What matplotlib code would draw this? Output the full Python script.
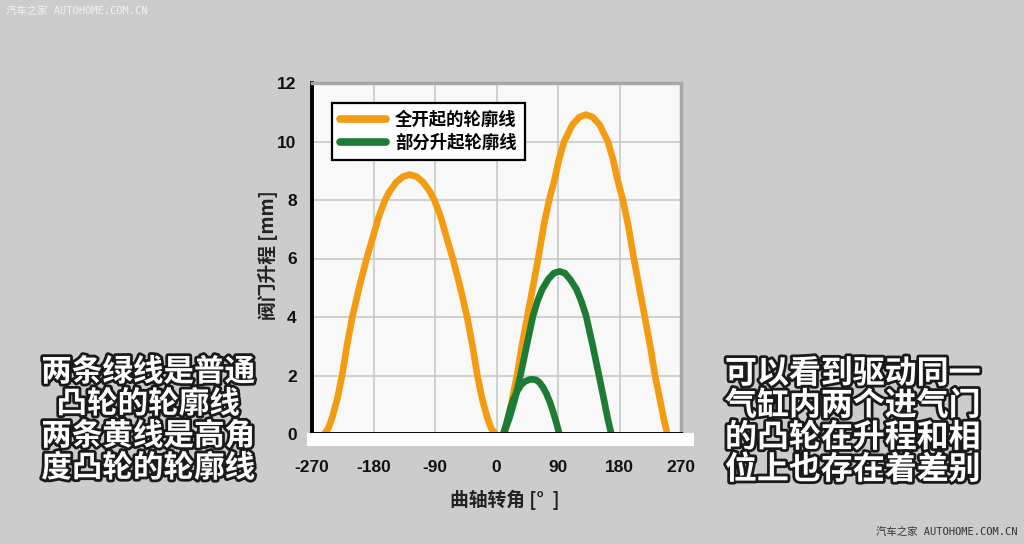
import numpy as np
import matplotlib
matplotlib.use('Agg')
import matplotlib.pyplot as plt
import matplotlib.patheffects as pe
from matplotlib.patches import Rectangle

plt.rcParams['font.family'] = ['Liberation Sans', 'Noto Sans CJK SC', 'DejaVu Sans']
plt.rcParams['axes.unicode_minus'] = False

# Data (crank angle in deg, valve lift in mm)
full_1_angle = [-252, -246, -240, -233, -226, -219, -211, -200, -190, -180, -172, -163, -157,
                -147, -137, -127, -117, -107, -97, -91, -82, -74, -64, -54, -43, -35, -28,
                -21, -14, -8, -2]
full_1_lift = [0, 0.2, 0.6, 1.2, 2.0, 3.0, 4.0, 5.1, 6.0, 6.8, 7.45, 8.0, 8.27,
               8.6, 8.8, 8.87, 8.8, 8.6, 8.27, 8.0, 7.45, 6.8, 6.0, 5.1, 4.0, 3.0, 2.0,
               1.2, 0.6, 0.2, 0]

full_2_angle = [12, 17, 23, 30, 37, 45, 53, 61, 69, 77, 85, 91, 99, 111, 121, 131,
                141, 151, 163, 171, 177, 185, 193, 201, 209, 217, 225, 232, 239, 245, 250]
full_2_lift = [0, 0.5, 1.2, 2.0, 3.0, 4.0, 5.0, 6.0, 7.1, 8.0, 8.7, 9.35, 10.0, 10.57, 10.83, 10.92,
               10.83, 10.57, 10.0, 9.35, 8.7, 8.0, 7.1, 6.0, 5.0, 4.0, 3.0, 2.0, 1.2, 0.5, 0]

part_1_angle = [10, 19, 27, 35, 44, 53, 60, 67, 76, 84, 92, 100, 108, 117, 124, 131,
                141, 150, 157, 163, 168]
part_1_lift = [0, 0.55, 1.2, 2.0, 3.0, 4.0, 4.55, 4.95, 5.3, 5.5, 5.56, 5.5, 5.28, 4.95, 4.55, 4.05,
               3.0, 2.0, 1.2, 0.5, 0]

part_2_angle = [10, 15, 20, 25, 30, 36, 42, 48, 53, 58, 63, 68, 73, 78, 83, 88, 92]
part_2_lift = [0, 0.4, 0.85, 1.2, 1.45, 1.68, 1.8, 1.86, 1.87, 1.85, 1.76, 1.6, 1.38, 1.1, 0.75, 0.35, 0]

x_ticks = [-270, -180, -90, 0, 90, 180, 270]
y_ticks = [0, 2, 4, 6, 8, 10, 12]

orange = '#F39C12'
green = '#1E7B34'
bg = '#CCCCCC'

W, H = 1024, 544
fig = plt.figure(figsize=(W / 100, H / 100), dpi=100, facecolor=bg)
ax = fig.add_axes([312 / W, 1 - 434 / H, 369 / W, 351 / H])
ax.set_facecolor('#F8F8F8')

style = dict(lw=4.8, solid_capstyle='round', solid_joinstyle='round')
ax.plot(full_1_angle, full_1_lift, color=orange, label='全开起的轮廓线', zorder=3, **style)
ax.plot(full_2_angle, full_2_lift, color=orange, zorder=3, **style)
ax.plot(part_1_angle, part_1_lift, color=green, label='部分升起轮廓线', zorder=4, **style)
ax.plot(part_2_angle, part_2_lift, color=green, zorder=4, **style)

ax.set_xlim(-270, 270)
ax.set_ylim(0, 12)
ax.set_xticks(x_ticks)
ax.set_yticks(y_ticks)
ax.grid(True, color='#C8C8C8', lw=1.2, zorder=0)
ax.set_axisbelow(True)
ax.tick_params(length=0, labelsize=12.5)
ax.tick_params(axis='x', pad=19)
ax.tick_params(axis='y', pad=11)
for lab in ax.get_xticklabels() + ax.get_yticklabels():
    lab.set_fontweight('bold')
    lab.set_color('#111111')

for side in ['top', 'right']:
    ax.spines[side].set_color('#A8A8A8')
    ax.spines[side].set_linewidth(2.5)
for side in ['left', 'bottom']:
    ax.spines[side].set_color('black')
    ax.spines[side].set_linewidth(2.8)
ax.spines['bottom'].set_zorder(6)

# white strip under the x axis
fig.patches.append(Rectangle((307 / W, 1 - 446 / H), 387 / W, 13 / H, transform=fig.transFigure,
                             facecolor='white', edgecolor='none', zorder=0.5))

leg = ax.legend(loc='upper left', bbox_to_anchor=(0.03, 0.968), fancybox=False, framealpha=1,
                edgecolor='black', prop={'family': ['Noto Sans CJK SC'], 'size': 12.5, 'weight': 'bold'},
                handlelength=2.7, labelspacing=0.3, borderpad=0.45, handletextpad=0.5)
leg.get_frame().set_linewidth(1.6)
for line in leg.get_lines():
    line.set_linewidth(5.5)

cjk = ['Noto Sans CJK SC', 'DejaVu Sans']
fig.text(268 / W, 1 - 255 / H, '阀门升程 [mm]', rotation=90, ha='center', va='center',
         fontsize=13.5, family=cjk, weight='bold', color='#222222')
fig.text(505 / W, 1 - 500 / H, '曲轴转角 [°  ]', ha='center', va='center',
         fontsize=13.5, family=cjk, weight='bold', color='#222222')

# overlay captions
glow = [pe.withStroke(linewidth=4, foreground='#1A1A1A')]
fig.text(148 / W, 1 - 420 / H, '两条绿线是普通\n凸轮的轮廓线\n两条黄线是高角\n度凸轮的轮廓线',
         ha='center', va='center', fontsize=22, family=cjk, weight='bold', color='white',
         linespacing=1.0, path_effects=glow)
fig.text(853 / W, 1 - 422 / H, '可以看到驱动同一\n气缸内两个进气门\n的凸轮在升程和相\n位上也存在着差别',
         ha='center', va='center', fontsize=23, family=cjk, weight='bold', color='white',
         linespacing=1.0, path_effects=glow)

# watermarks
mark = ['DejaVu Sans Mono', 'Noto Sans CJK SC']
fig.text(6 / W, 1 - 12 / H, '汽车之家 AUTOHOME.COM.CN', ha='left', va='center',
         fontsize=7.5, family=mark, color='#F2F2F2')
fig.text(1018 / W, 1 - 533 / H, '汽车之家 AUTOHOME.COM.CN', ha='right', va='center',
         fontsize=7.5, family=mark, color='#333333')

fig.savefig('out.png', dpi=100, facecolor=bg)
